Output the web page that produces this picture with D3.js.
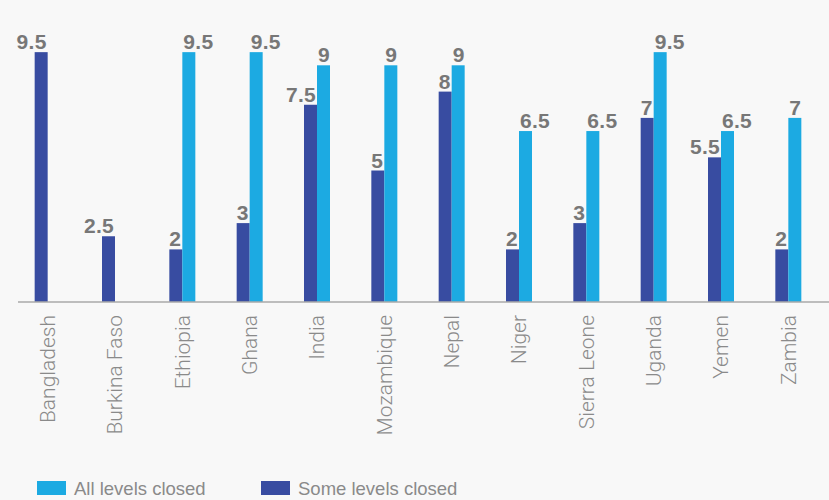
<!DOCTYPE html>
<html>
<head>
<meta charset="utf-8">
<script src="https://cdn.jsdelivr.net/npm/d3@7"></script>
<style>
  html, body { margin: 0; padding: 0; background: #f8f8f8; }
  svg { display: block; font-family: "Liberation Sans", Arial, sans-serif; }
  .tick-label { fill: #8a8a8a; font-size: 21px; font-family: Roboto, "Liberation Sans", sans-serif; font-weight: 300; }
  .value { fill: #777777; font-size: 21px; font-weight: bold; letter-spacing: 0.3px; }
  .legend text { fill: #8a8a8a; font-size: 18.5px; }
</style>
</head>
<body>
<div id="chart"></div>
<script>
// Data
var countries = ["Bangladesh", "Burkina Faso", "Ethiopia", "Ghana", "India", "Mozambique",
  "Nepal", "Niger", "Sierra Leone", "Uganda", "Yemen", "Zambia"];
var someLevels = [9.5, 2.5, 2, 3, 7.5, 5, 8, 2, 3, 7, 5.5, 2];
var allLevels = [null, null, 9.5, 9.5, 9, 9, 9, 6.5, 6.5, 9.5, 6.5, 7];

var seriesNames = ["Some levels closed", "All levels closed"];
var seriesColors = ["#384ca1", "#1caae2"];

var width = 829, height = 500;
var baseline = 302;

var svg = d3.select("#chart")
  .append("svg")
    .attr("width", width)
    .attr("height", height);

// Scales
var x = d3.scaleBand().domain(countries).range([14, 822]).padding(0);
var sub = d3.scaleBand().domain(["some", "all"]).range([-13, 13]);
var y = d3.scaleLinear().domain([0, 10]).range([baseline, 39]);

var rows = countries.map(function(c, i) {
  return {country: c, some: someLevels[i], all: allLevels[i]};
});

var groups = svg.selectAll(".group")
  .data(rows)
  .enter().append("g")
    .attr("class", "group")
    .attr("transform", function(d) { return "translate(" + (x(d.country) + x.bandwidth() / 2) + ",0)"; });

// Bars and value labels
["some", "all"].forEach(function(key, k) {
  groups.filter(function(d) { return d[key] != null; })
    .append("rect")
      .attr("x", sub(key))
      .attr("width", sub.bandwidth())
      .attr("y", function(d) { return y(d[key]); })
      .attr("height", function(d) { return baseline - y(d[key]); })
      .attr("fill", seriesColors[k]);

  groups.filter(function(d) { return d[key] != null; })
    .append("text")
      .attr("class", "value")
      .attr("x", key == "some" ? -1 : 1)
      .attr("y", function(d) { return y(d[key]) - 3; })
      .attr("text-anchor", key == "some" ? "end" : "start")
      .text(function(d) { return d[key]; });
});

// X axis
var xAxis = d3.axisBottom(x).tickSize(0).tickPadding(0);
var axis = svg.append("g")
  .attr("class", "x axis")
  .attr("transform", "translate(0," + baseline + ")")
  .call(xAxis);
axis.select(".domain").remove();
axis.append("line")
  .attr("x1", 18).attr("x2", width)
  .attr("stroke", "#aaaaaa").attr("stroke-width", 1.5);
axis.selectAll(".tick text")
  .attr("class", "tick-label")
  .attr("fill", null)
  .attr("font-size", null)
  .attr("font-family", null)
  .attr("text-anchor", "end")
  .attr("transform", "rotate(-90)")
  .attr("x", -13)
  .attr("y", 0)
  .attr("dy", "0.35em");

// Legend
var legendItems = [
  {name: seriesNames[1], color: seriesColors[1], x: 37},
  {name: seriesNames[0], color: seriesColors[0], x: 261}
];
var legend = svg.append("g").attr("class", "legend");
var item = legend.selectAll("g")
  .data(legendItems)
  .enter().append("g")
    .attr("transform", function(d) { return "translate(" + d.x + ",481)"; });
item.append("rect")
  .attr("width", 29).attr("height", 14)
  .attr("fill", function(d) { return d.color; });
item.append("text")
  .attr("x", 37).attr("y", 14)
  .text(function(d) { return d.name; });
</script>
</body>
</html>
